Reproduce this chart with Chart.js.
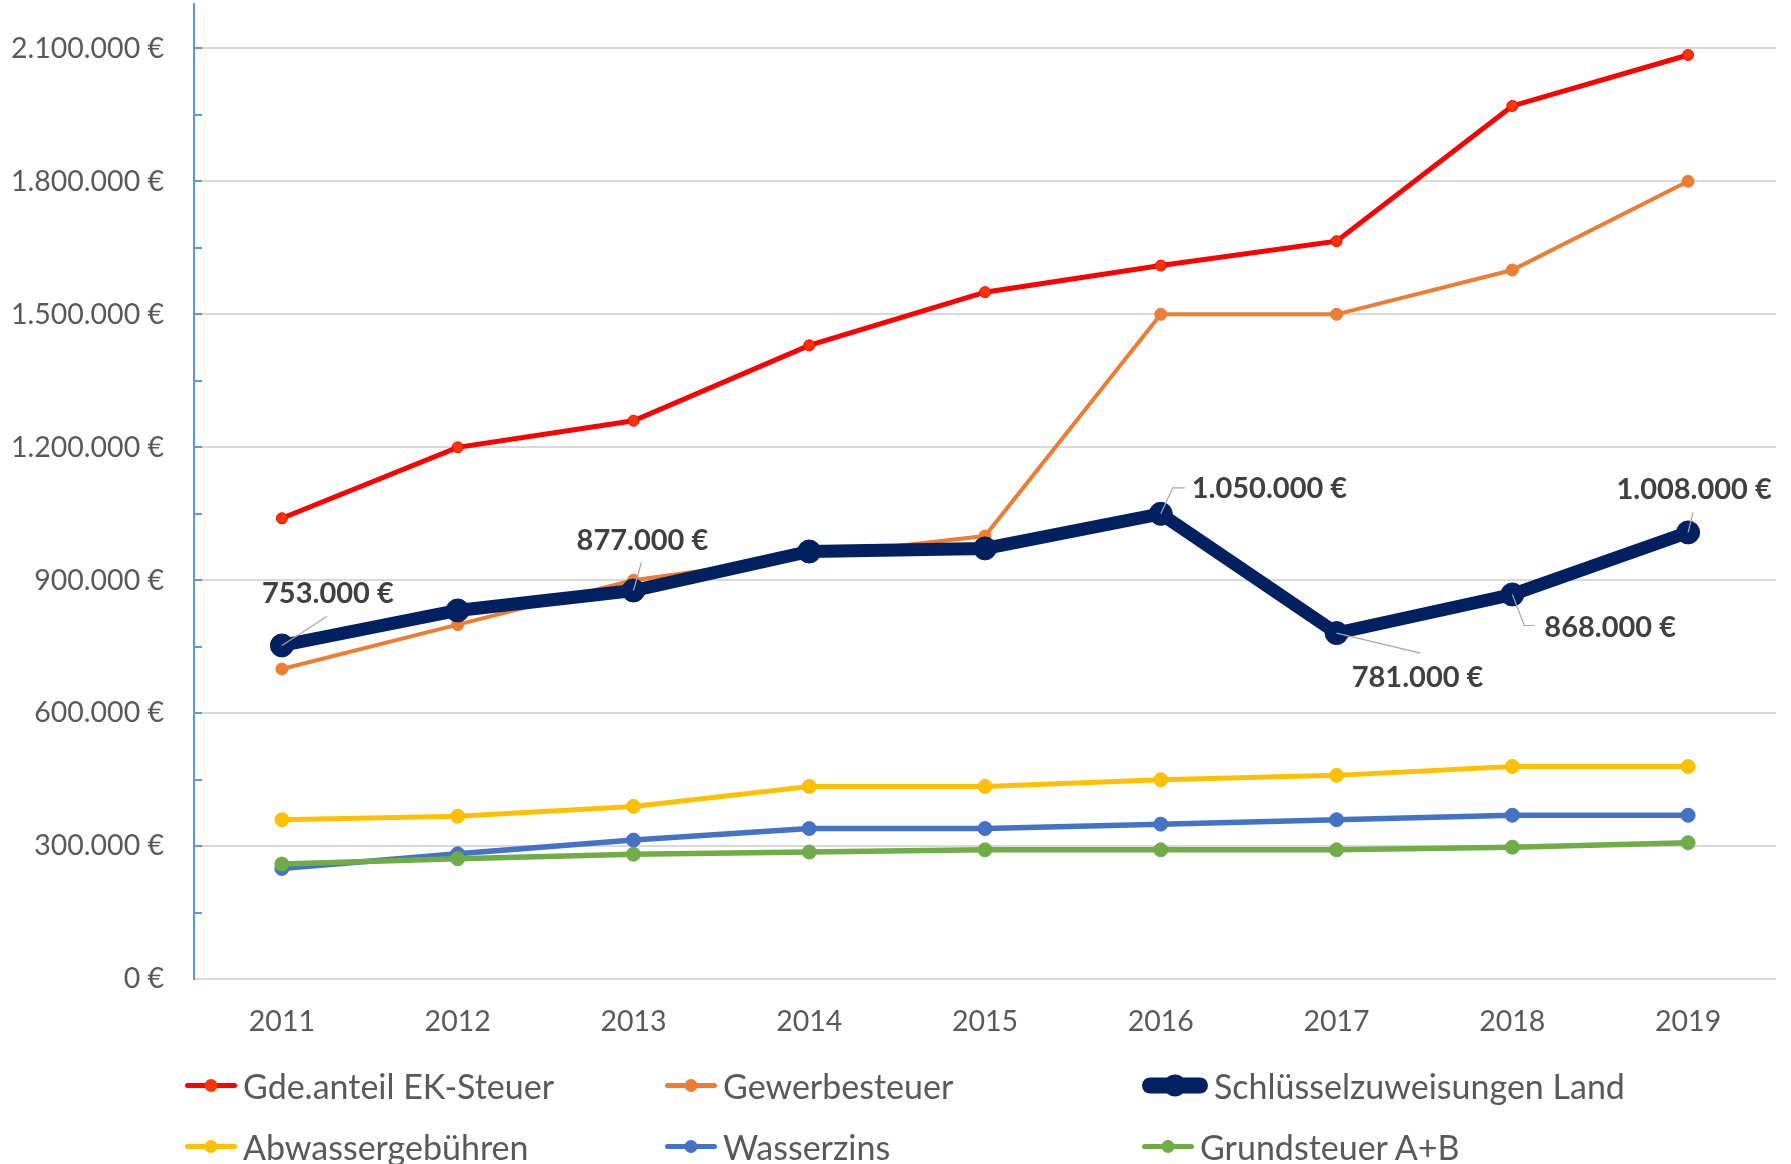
<!DOCTYPE html>
<html>
<head>
<meta charset="utf-8">
<script src="https://cdn.jsdelivr.net/npm/chart.js@4.4.1/dist/chart.umd.min.js"></script>
<style>
  body { margin: 0; background: #fff; }
  #wrap { position: relative; width: 1791px; height: 1164px; }
  #legend { position: absolute; left: 0; top: 0; width: 1791px; height: 1164px; pointer-events: none;
            font-family: Lato, sans-serif; color: #595959; font-size: 34px; }
  .item { position: absolute; display: flex; align-items: center; white-space: nowrap; transform: translateY(-50%); }
  .mark { position: relative; height: 20px; margin-right: 6px; }
  .mark .ln { position: absolute; left: 0; right: 0; top: 50%; transform: translateY(-50%); border-radius: 8px; }
  .mark .dot { position: absolute; left: 50%; top: 50%; transform: translate(-50%, -50%); border-radius: 50%; }
</style>
</head>
<body>
<div id="wrap">
  <canvas id="chart" width="1791" height="1164"></canvas>
  <div id="legend"></div>
</div>
<script>
// categories
var years = ["2011", "2012", "2013", "2014", "2015", "2016", "2017", "2018", "2019"];

// series values (EUR)
var einkommensteuer = [1040000, 1200000, 1260000, 1430000, 1550000, 1610000, 1665000, 1970000, 2085000];
var gewerbesteuer = [700000, 800000, 900000, 955000, 1000000, 1500000, 1500000, 1600000, 1800000];
var schluesselzuweisungen = [753000, 832000, 877000, 965000, 972000, 1050000, 781000, 868000, 1008000];
var abwasser = [360000, 368000, 390000, 435000, 435000, 450000, 460000, 480000, 480000];
var wasserzins = [250000, 283000, 314000, 340000, 340000, 350000, 360000, 370000, 370000];
var grundsteuer = [260000, 272000, 282000, 287000, 292000, 292000, 292000, 298000, 308000];

var seriesNames = ["Gde.anteil EK-Steuer", "Gewerbesteuer", "Schlüsselzuweisungen Land",
                   "Abwassergebühren", "Wasserzins", "Grundsteuer A+B"];

// y axis: labelled every 300.000, small tick every 150.000
var yMax = 2200000;
var yStep = 150000;
var yLabelStep = 300000;

// which points of the Schlüsselzuweisungen line carry a value label
var labelledPoints = [0, 2, 5, 6, 7, 8];

function euro(v) {
    return String(Math.round(v)).replace(/\B(?=(\d{3})+(?!\d))/g, '.') + ' €';
}
function isMajor(v) {
    return Math.round(v) % yLabelStep === 0;
}

var styles = [
    { color: '#ff0000', fill: '#ff3300', width: 5, r: 5.5 },
    { color: '#ed7d31', fill: '#ed7d31', width: 4, r: 6 },
    { color: '#002060', fill: '#002060', width: 13, r: 11.5 },
    { color: '#ffc000', fill: '#ffc000', width: 5, r: 7 },
    { color: '#4472c4', fill: '#4472c4', width: 5.5, r: 7 },
    { color: '#70ad47', fill: '#70ad47', width: 5.5, r: 7 }
];
var values = [einkommensteuer, gewerbesteuer, schluesselzuweisungen, abwasser, wasserzins, grundsteuer];

var datasets = values.map(function (d, i) {
    var s = styles[i];
    return {
        label: seriesNames[i],
        data: d,
        borderColor: s.color,
        backgroundColor: s.fill,
        borderWidth: s.width,
        pointRadius: s.r,
        pointBackgroundColor: s.fill,
        pointBorderColor: s.color,
        pointBorderWidth: 1,
        tension: 0,
        order: values.length - i
    };
});

// leader line paths + label anchor (relative to point), per labelled point
var leaders = {
    0: { path: [[45, -29]], text: [46, -52], align: 'center' },
    2: { path: [[8, -28]], text: [9, -50], align: 'center' },
    5: { path: [[12, -26], [24, -26]], text: [31, -25], align: 'left' },
    6: { path: [[84, 20]], text: [81, 45], align: 'center' },
    7: { path: [[12, 31], [22, 31]], text: [32, 33], align: 'left' },
    8: { path: [[5, -20]], text: [6, -43], align: 'center' }
};

var dataLabels = {
    id: 'dataLabels',
    afterDatasetsDraw: function (chart) {
        var ctx = chart.ctx;
        var meta = chart.getDatasetMeta(2);
        ctx.save();
        labelledPoints.forEach(function (i) {
            var p = meta.data[i];
            var l = leaders[i];
            ctx.strokeStyle = '#a6a6a6';
            ctx.lineWidth = 1.2;
            ctx.beginPath();
            ctx.moveTo(p.x, p.y);
            l.path.forEach(function (q) { ctx.lineTo(p.x + q[0], p.y + q[1]); });
            ctx.stroke();
            ctx.font = 'bold 29px Lato';
            ctx.fillStyle = '#404040';
            ctx.textAlign = l.align;
            ctx.textBaseline = 'middle';
            ctx.fillText(euro(schluesselzuweisungen[i]), p.x + l.text[0], p.y + l.text[1]);
        });
        ctx.restore();
    }
};

// small inside tick marks on the value axis
var axisTicks = {
    id: 'axisTicks',
    afterDraw: function (chart) {
        var ctx = chart.ctx;
        var y = chart.scales.y;
        ctx.save();
        ctx.strokeStyle = '#5b9bd5';
        ctx.lineWidth = 2;
        y.ticks.forEach(function (t) {
            if (t.value <= 0) return;
            var py = Math.round(y.getPixelForValue(t.value));
            ctx.beginPath();
            ctx.moveTo(y.right, py);
            ctx.lineTo(y.right + 8, py);
            ctx.stroke();
        });
        ctx.restore();
    }
};

new Chart(document.getElementById('chart'), {
    type: 'line',
    data: { labels: years, datasets: datasets },
    options: {
        responsive: false,
        animation: false,
        devicePixelRatio: 1,
        layout: { autoPadding: false, padding: { left: -19, right: 15, top: 4, bottom: 107.5 } },
        plugins: { legend: { display: false }, tooltip: { enabled: false } },
        scales: {
            x: {
                offset: true,
                grid: { display: false },
                border: { display: false },
                ticks: { color: '#595959', font: { family: 'Lato', size: 28.5 }, padding: 17.5 }
            },
            y: {
                min: 0,
                max: yMax,
                afterBuildTicks: function (scale) {
                    var t = [];
                    for (var v = 0; v < yMax; v += yStep) t.push({ value: v });
                    scale.ticks = t;
                },
                afterFit: function (scale) {
                    // top label sits well below the axis end, no extra room needed
                    scale.paddingTop = 0;
                },
                border: { color: '#5b9bd5', width: 2 },
                grid: {
                    drawTicks: false,
                    lineWidth: 2,
                    color: function (c) { return c.tick && isMajor(c.tick.value) ? '#d9d9d9' : 'rgba(0,0,0,0)'; }
                },
                ticks: {
                    autoSkip: false,
                    padding: 30,
                    color: '#595959',
                    font: { family: 'Lato', size: 28.5 },
                    callback: function (v) { return isMajor(v) ? euro(v) : ''; }
                }
            }
        }
    },
    plugins: [dataLabels, axisTicks]
});

// legend laid out in three columns like the original
var legendCols = [185, 665, 1142];
var legendRows = [1085, 1146];
var legend = document.getElementById('legend');
seriesNames.forEach(function (name, i) {
    var s = styles[i];
    var item = document.createElement('div');
    item.className = 'item';
    item.style.left = legendCols[i % 3] + 'px';
    item.style.top = legendRows[Math.floor(i / 3)] + 'px';
    var thick = i === 2;
    var mark = document.createElement('span');
    mark.className = 'mark';
    mark.style.width = (thick ? 66 : 52) + 'px';
    mark.style.height = (thick ? 24 : 16) + 'px';
    var ln = document.createElement('span');
    ln.className = 'ln';
    ln.style.height = (thick ? 16 : 5) + 'px';
    ln.style.background = s.color;
    var dot = document.createElement('span');
    dot.className = 'dot';
    dot.style.width = dot.style.height = (thick ? 22 : 13) + 'px';
    dot.style.background = s.fill;
    mark.appendChild(ln);
    mark.appendChild(dot);
    var txt = document.createElement('span');
    txt.textContent = name;
    item.appendChild(mark);
    item.appendChild(txt);
    legend.appendChild(item);
});
</script>
</body>
</html>
